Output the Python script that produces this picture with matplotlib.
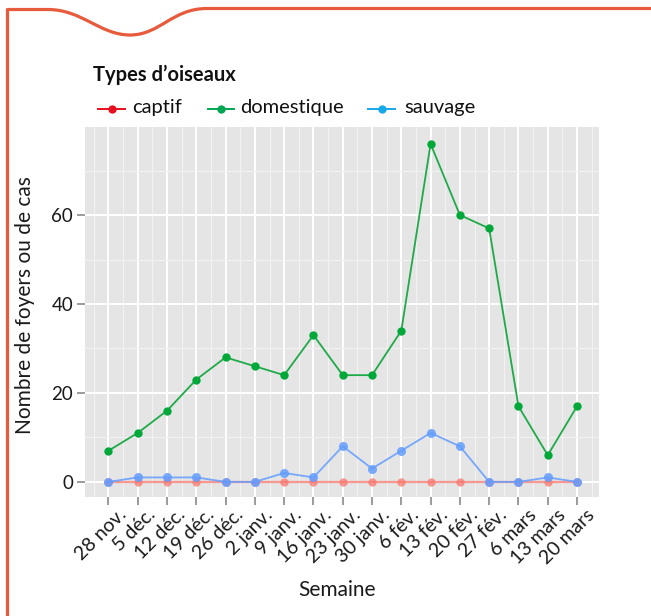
import matplotlib
matplotlib.use("Agg")
import matplotlib.pyplot as plt
from matplotlib.path import Path
from matplotlib.patches import PathPatch
from matplotlib.lines import Line2D
from matplotlib.transforms import ScaledTranslation
import numpy as np

plt.rcParams['font.family'] = ['Lato', 'DejaVu Sans']

weeks = ["28 nov.", "5 déc.", "12 déc.", "19 déc.", "26 déc.", "2 janv.", "9 janv.",
         "16 janv.", "23 janv.", "30 janv.", "6 fév.", "13 fév.", "20 fév.", "27 fév.",
         "6 mars", "13 mars", "20 mars"]
captif = [0, 0, 0, 0, 0, 0, 0, 0, 0, 0, 0, 0, 0, 0, 0, 0, 0]
domestique = [7, 11, 16, 23, 28, 26, 24, 33, 24, 24, 34, 76, 60, 57, 17, 6, 17]
sauvage = [0, 1, 1, 1, 0, 0, 2, 1, 8, 3, 7, 11, 8, 0, 0, 1, 0]

legend_labels = ["captif", "domestique", "sauvage"]
legend_title = "Types d\u2019oiseaux"
y_ticks = [0, 20, 40, 60]

W, H = 651, 616
fig = plt.figure(figsize=(W / 100, H / 100), dpi=100)

# panel
L, R, T, B = 85, 599, 127, 497
ax = fig.add_axes([L / W, 1 - B / H, (R - L) / W, (B - T) / H])
ax.set_facecolor("#E5E5E5")
for s in ax.spines.values():
    s.set_visible(False)

x = np.arange(len(weeks))
ax.set_xlim(-0.8, len(weeks) - 1 + 0.75)
ax.set_ylim(-3.4, 79.8)

ax.set_xticks(x)
ax.set_xticks(list(x[:-1] + 0.5) + [-0.5, len(weeks) - 0.5], minor=True)
ax.set_yticks(y_ticks)
ax.set_yticks([10, 30, 50, 70], minor=True)
ax.grid(which="major", color="white", linewidth=1.4)
ax.grid(which="minor", color="#F2F2F2", linewidth=0.8)
ax.set_axisbelow(True)
ax.tick_params(which="minor", length=0)
ax.tick_params(which="major", length=5.5, width=1.1, color="#808080",
               labelcolor="#1a1a1a")
ax.tick_params(axis="y", labelsize=13.5, pad=3)
ax.tick_params(axis="x", labelsize=14, pad=1)
ax.set_xticklabels(weeks, rotation=45, ha="right", va="top", rotation_mode="anchor")
off = ScaledTranslation(9 / 100, 0, fig.dpi_scale_trans)
for lab in ax.get_xticklabels():
    lab.set_transform(lab.get_transform() + off)

# series
ax.plot(x, captif, color="#F8766D", lw=1.6, alpha=0.75, marker="o", ms=6,
        mec="none", zorder=3)
ax.plot(x, domestique, color="#1EAA48", lw=1.3, marker="o", ms=6,
        mfc="#00A83A", mec="none", zorder=4)
ax.plot(x, sauvage, color="#619CFF", lw=1.3, alpha=0.85, marker="o", ms=6.5,
        mfc="#619CFF", mec="none", zorder=5)

fig.text(337 / W, 1 - 590 / H, "Semaine", fontsize=15, color="#1a1a1a",
         ha="center", va="center")
fig.text(25 / W, 1 - 305 / H, "Nombre de foyers ou de cas", rotation=90,
         fontsize=15, color="#1a1a1a", ha="center", va="center")

# legend (custom, in pixel coordinates)
over = fig.add_axes([0, 0, 1, 1], facecolor="none")
over.set_xlim(0, W)
over.set_ylim(H, 0)
over.axis("off")
over.text(93, 75, legend_title, fontsize=14.5, fontweight="bold",
          color="#111111", ha="left", va="center")
leg_colors = ["#E8101E", "#00A651", "#17A8E8"]
line_x = [(98, 125), (208, 234), (368, 395)]
text_x = [132, 240, 404]
for lab, c, (x0, x1), tx in zip(legend_labels, leg_colors, line_x, text_x):
    over.add_line(Line2D([x0, x1], [109, 109], color=c, lw=1.4))
    over.plot([(x0 + x1) / 2], [109], "o", color=c, ms=6, mec="none")
    over.text(tx, 107, lab, fontsize=14.5, color="#111111", ha="left", va="center")

# orange frame with notch
verts = [(7.5, H + 5), (7.5, 9.5), (48, 9.5),
         (82, 9.5), (100, 35), (130, 35),
         (160, 35), (172, 8.5), (207, 8.5),
         (W + 5, 8.5)]
codes = [Path.MOVETO, Path.LINETO, Path.LINETO,
         Path.CURVE4, Path.CURVE4, Path.CURVE4,
         Path.CURVE4, Path.CURVE4, Path.CURVE4,
         Path.LINETO]
over.add_patch(PathPatch(Path(verts, codes), fill=False, edgecolor="#E85A3C",
                         lw=2.3, joinstyle="round", capstyle="butt"))

fig.savefig("out.png", dpi=100)
